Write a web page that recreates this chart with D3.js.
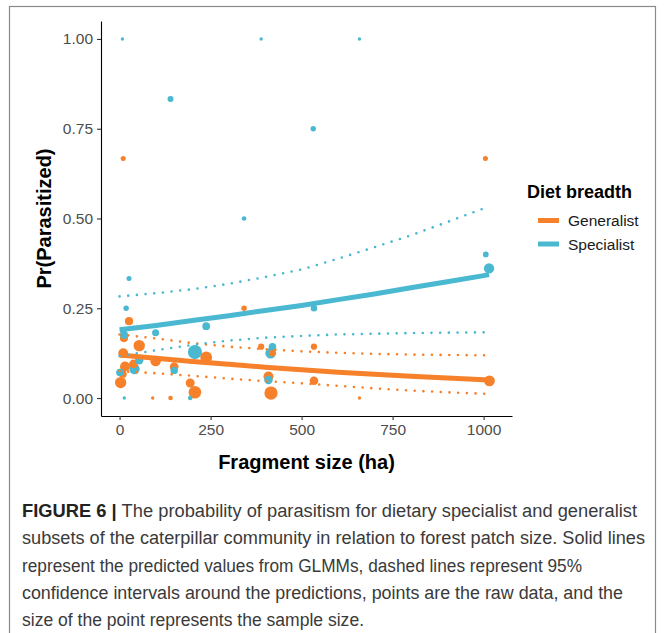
<!DOCTYPE html>
<html>
<head>
<meta charset="utf-8">
<script src="https://cdn.jsdelivr.net/npm/d3@7"></script>
<style>
  body { margin: 0; background: #fff; }
  text { font-family: "Liberation Sans", Arial, sans-serif; }
</style>
</head>
<body>
<svg width="667" height="633"></svg>
<script>
// raw data: fragment size (ha), proportion parasitized, sample size
const genX = [10, 1005, 342, 26, 12, 54, 10, 238, 389, 420, 99, 150, 15, 38, 9, 3, 409, 416, 194, 207, 91, 140, 534, 534, 1016, 659];
const genY = [0.667, 0.667, 0.25, 0.214, 0.167, 0.146, 0.125, 0.113, 0.143, 0.125, 0.103, 0.087, 0.088, 0.095, 0.067, 0.043, 0.06, 0.014, 0.042, 0.016, 0, 0, 0.143, 0.048, 0.048, 0];
const genN = [3, 3, 4, 18, 18, 48, 32, 53, 7, 8, 39, 23, 34, 21, 15, 47, 33, 72, 24, 63, 1, 2, 7, 21, 42, 1];

const specX = [8, 389, 659, 140, 342, 532, 26, 18, 238, 12, 99, 207, 420, 415, 54, 150, 41, 1, 409, 13, 194, 1006, 1015, 534];
const specY = [1, 1, 1, 0.833, 0.5, 0.75, 0.333, 0.25, 0.2, 0.176, 0.182, 0.128, 0.143, 0.125, 0.105, 0.077, 0.081, 0.071, 0.05, 0, 0, 0.4, 0.361, 0.25];
const specN = [1, 1, 1, 6, 2, 4, 3, 4, 15, 17, 11, 86, 14, 40, 19, 13, 37, 14, 20, 1, 2, 5, 36, 8];

// model predictions with 95% CI
const predX    = [0, 100, 200, 300, 400, 500, 600, 700, 800, 900, 1000, 1015];
const genFit   = [0.120, 0.111, 0.102, 0.094, 0.086, 0.079, 0.072, 0.066, 0.061, 0.056, 0.051, 0.050];
const genLo    = [0.075, 0.069, 0.062, 0.054, 0.047, 0.041, 0.034, 0.027, 0.021, 0.016, 0.012, 0.012];
const genHi    = [0.177, 0.166, 0.153, 0.143, 0.136, 0.130, 0.126, 0.123, 0.121, 0.120, 0.119, 0.119];
const specFit  = [0.190, 0.202, 0.216, 0.229, 0.244, 0.258, 0.274, 0.290, 0.307, 0.324, 0.341, 0.344];
const specLo   = [0.117, 0.133, 0.148, 0.160, 0.168, 0.173, 0.177, 0.179, 0.181, 0.182, 0.183, 0.183];
const specHi   = [0.283, 0.292, 0.303, 0.318, 0.337, 0.358, 0.388, 0.420, 0.453, 0.490, 0.528, 0.535];

const xTicks = [0, 250, 500, 750, 1000];
const yTicks = [0, 0.25, 0.5, 0.75, 1];
const groups = ["Generalist", "Specialist"];
const colors = ["#F7812A", "#4AB8D1"];

const captionLines = [
  "The probability of parasitism for dietary specialist and generalist",
  "subsets of the caterpillar community in relation to forest patch size. Solid lines",
  "represent the predicted values from GLMMs, dashed lines represent 95%",
  "confidence intervals around the predictions, points are the raw data, and the",
  "size of the point represents the sample size."
];

const svg = d3.select("svg"),
      margin = { top: 21, left: 101 },
      width = 411,
      height = 395;

const color = d3.scaleOrdinal().domain(groups).range(colors);

// figure frame
svg.append("rect")
  .attr("x", 9.5).attr("y", 6.5)
  .attr("width", 646).attr("height", 650)
  .attr("fill", "none")
  .attr("stroke", "#8a8a8a")
  .attr("stroke-width", 1.2);

const chart = svg.append("g")
  .attr("transform", `translate(${margin.left},${margin.top})`);

const x = d3.scaleLinear().domain([-51, 1078]).range([0, width]);
const y = d3.scaleLinear().domain([-0.05, 1.05]).range([height, 0]);
const r = d3.scaleSqrt().domain([0, 89]).range([1.7, 7.2]);

// points, large ones underneath
const points = genX.map((d, i) => ({ g: "Generalist", x: d, y: genY[i], n: genN[i] }))
  .concat(specX.map((d, i) => ({ g: "Specialist", x: d, y: specY[i], n: specN[i] })))
  .sort((a, b) => b.n - a.n);

chart.selectAll(".pt")
  .data(points)
  .enter().append("circle")
  .attr("class", "pt")
  .attr("cx", d => x(d.x))
  .attr("cy", d => y(d.y))
  .attr("r", d => r(d.n - 1))
  .attr("fill", d => color(d.g));

const line = d3.line()
  .x((d, i) => x(predX[i]))
  .y(d => y(d));

const series = [
  { g: "Generalist", lo: genLo, hi: genHi, fit: genFit },
  { g: "Specialist", lo: specLo, hi: specHi, fit: specFit }
];

series.forEach(s => {
  [s.lo, s.hi].forEach(ci => {
    chart.append("path")
      .attr("d", line(ci))
      .attr("fill", "none")
      .attr("stroke", color(s.g))
      .attr("stroke-width", 2.6)
      .attr("stroke-linecap", "round")
      .attr("stroke-dasharray", "0 8.7");
  });
  chart.append("path")
    .attr("d", line(s.fit))
    .attr("fill", "none")
    .attr("stroke", color(s.g))
    .attr("stroke-width", 5);
});

// axes
const xAxis = chart.append("g")
  .attr("transform", `translate(0,${height})`)
  .call(d3.axisBottom(x).tickValues(xTicks).tickFormat(d3.format("d")).tickSize(4).tickSizeOuter(0).tickPadding(4));

const yAxis = chart.append("g")
  .call(d3.axisLeft(y).tickValues(yTicks).tickFormat(d3.format(".2f")).tickSize(4).tickSizeOuter(0).tickPadding(4));

[xAxis, yAxis].forEach(a => {
  a.select(".domain").attr("stroke", "#000").attr("stroke-width", 1.1);
  a.selectAll(".tick line").attr("stroke", "#333").attr("stroke-width", 1.1);
  a.selectAll(".tick text")
    .attr("fill", "#4d4d4d")
    .style("font-size", "15.5px")
    .style("font-family", "'Liberation Sans', Arial, sans-serif");
});

chart.append("text")
  .attr("x", width / 2)
  .attr("y", height + 53)
  .style("text-anchor", "middle")
  .style("font-size", "20px")
  .style("font-weight", "bold")
  .text("Fragment size (ha)");

chart.append("text")
  .attr("transform", "rotate(-90)")
  .attr("x", -height / 2)
  .attr("y", -50)
  .style("text-anchor", "middle")
  .style("font-size", "20px")
  .style("font-weight", "bold")
  .text("Pr(Parasitized)");

// legend
const legend = svg.append("g").attr("transform", "translate(527,0)");
legend.append("text")
  .attr("x", 0).attr("y", 198)
  .style("font-size", "18px")
  .style("font-weight", "bold")
  .text("Diet breadth");

groups.forEach((g, i) => {
  const ky = 220.5 + i * 23.5;
  legend.append("line")
    .attr("x1", 11).attr("x2", 32)
    .attr("y1", ky).attr("y2", ky)
    .attr("stroke", color(g))
    .attr("stroke-width", 5);
  legend.append("text")
    .attr("x", 41).attr("y", ky + 5.5)
    .style("font-size", "15.5px")
    .attr("fill", "#1a1a1a")
    .text(g);
});

// caption
const cap = svg.append("g").attr("class", "caption");
const capWidths = [615, 623, 560, 601, 342];
captionLines.forEach((txt, i) => {
  const t = cap.append("text")
    .attr("x", 22)
    .attr("y", 517 + i * 27.3)
    .attr("textLength", capWidths[i])
    .attr("lengthAdjust", "spacingAndGlyphs")
    .style("font-size", "18px")
    .attr("fill", "#3a3a3a");
  if (i === 0) {
    t.append("tspan").style("font-weight", "bold").attr("fill", "#222").text("FIGURE 6 | ");
  }
  t.append("tspan").text(txt);
});
</script>
</body>
</html>
